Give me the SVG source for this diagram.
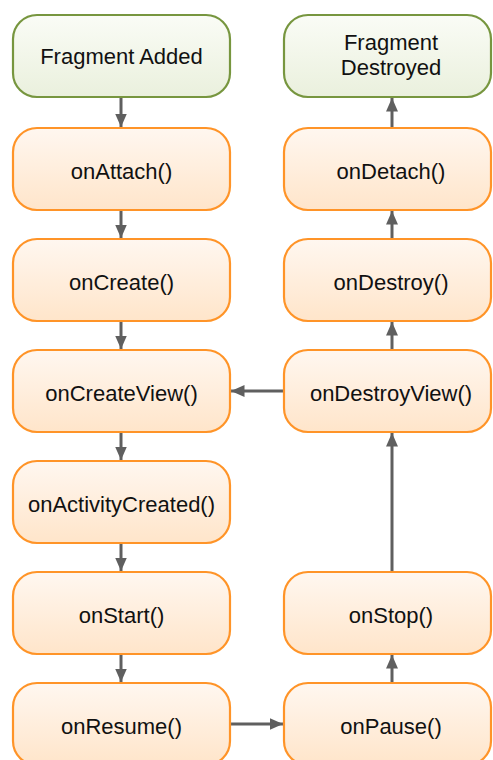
<svg xmlns="http://www.w3.org/2000/svg" width="493" height="760" viewBox="0 0 493 760">
<defs>
<linearGradient id="go" x1="0" y1="0" x2="0" y2="1">
<stop offset="0" stop-color="#FFF7F0"/>
<stop offset="1" stop-color="#FFE5CA"/>
</linearGradient>
<linearGradient id="gg" x1="0" y1="0" x2="0" y2="1">
<stop offset="0" stop-color="#FAFCF6"/>
<stop offset="1" stop-color="#EAF0DD"/>
</linearGradient>
<marker id="ah" viewBox="0 0 10 10" refX="10" refY="5" markerWidth="4.5" markerHeight="4" markerUnits="strokeWidth" orient="auto" preserveAspectRatio="none">
<path d="M0,0 L10,5 L0,10 z" fill="#5F5F5F"/>
</marker>
</defs>
<style>
.o{fill:url(#go);stroke:#FF9428;stroke-width:2.2}
.g{fill:url(#gg);stroke:#77963F;stroke-width:2.2}
text{font-family:"Liberation Sans",Arial,sans-serif;font-size:22px;fill:#111;text-anchor:middle}
.c line{stroke:#5F5F5F;stroke-width:3;marker-end:url(#ah)}
</style>
<rect width="493" height="760" fill="#fff"/>
<g class="c" id="connectors">
<line x1="121" y1="98" x2="121" y2="127"/>
<line x1="121" y1="210" x2="121" y2="238"/>
<line x1="121" y1="321" x2="121" y2="349"/>
<line x1="121" y1="432" x2="121" y2="460"/>
<line x1="121" y1="543" x2="121" y2="571"/>
<line x1="121" y1="654" x2="121" y2="682"/>
<line x1="231" y1="724" x2="283" y2="724"/>
<line x1="392" y1="683" x2="392" y2="655"/>
<line x1="392" y1="572" x2="392" y2="433"/>
<line x1="283" y1="391" x2="231" y2="391"/>
<line x1="392" y1="350" x2="392" y2="322"/>
<line x1="392" y1="239" x2="392" y2="211"/>
<line x1="392" y1="128" x2="392" y2="98"/>
</g>
<g id="fragmentAdded"><rect class="g" x="13" y="15" width="217" height="82" rx="24"/><text x="121.5" y="64">Fragment Added</text></g>
<g id="onAttach"><rect class="o" x="13" y="128" width="217" height="82" rx="24"/><text x="121.5" y="179">onAttach()</text></g>
<g id="onCreate"><rect class="o" x="13" y="239" width="217" height="82" rx="24"/><text x="121.5" y="290">onCreate()</text></g>
<g id="onCreateView"><rect class="o" x="13" y="350" width="217" height="82" rx="24"/><text x="121.5" y="401">onCreateView()</text></g>
<g id="onActivityCreated"><rect class="o" x="13" y="461" width="217" height="82" rx="24"/><text x="121.5" y="512">onActivityCreated()</text></g>
<g id="onStart"><rect class="o" x="13" y="572" width="217" height="82" rx="24"/><text x="121.5" y="623">onStart()</text></g>
<g id="onResume"><rect class="o" x="13" y="683" width="217" height="82" rx="24"/><text x="121.5" y="734">onResume()</text></g>
<g id="fragmentDestroyed"><rect class="g" x="284" y="15" width="207" height="82" rx="24"/><text x="391" y="50">Fragment</text><text x="391" y="75">Destroyed</text></g>
<g id="onDetach"><rect class="o" x="284" y="128" width="207" height="82" rx="24"/><text x="391" y="179">onDetach()</text></g>
<g id="onDestroy"><rect class="o" x="284" y="239" width="207" height="82" rx="24"/><text x="391" y="290">onDestroy()</text></g>
<g id="onDestroyView"><rect class="o" x="284" y="350" width="207" height="82" rx="24"/><text x="391" y="401">onDestroyView()</text></g>
<g id="onStop"><rect class="o" x="284" y="572" width="207" height="82" rx="24"/><text x="391" y="623">onStop()</text></g>
<g id="onPause"><rect class="o" x="284" y="683" width="207" height="82" rx="24"/><text x="391" y="734">onPause()</text></g>
</svg>
